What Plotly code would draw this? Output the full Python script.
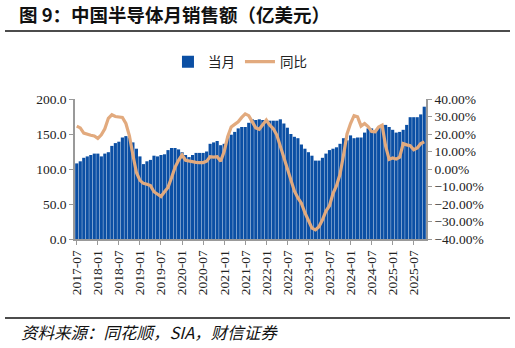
import pandas as pd
import plotly.graph_objects as go

months = [d.strftime("%Y-%m") for d in pd.date_range("2017-07-01", "2025-10-01", freq="MS")]

monthly_sales = [
    108, 111, 116, 118, 120, 122, 122, 118, 122, 124,
    133, 137, 139, 145, 147, 145, 138, 129, 118, 107,
    111, 113, 119, 118, 120, 121, 127, 130, 130, 128,
    124, 120, 117, 120, 123, 123, 123, 125, 136, 138,
    140, 134, 136, 145, 149, 153, 158, 160, 160, 166,
    171, 170, 171, 170, 170, 169, 169, 169, 171, 165,
    159, 150, 146, 144, 135, 129, 124, 119, 112, 112,
    116, 122, 127, 129, 131, 136, 144, 141, 148, 144,
    145, 145, 152, 158, 158, 155, 160, 163, 163, 160,
    156, 152, 153, 156, 163, 174, 174, 174, 178, 189,
]

yoy = [
    24.5, 23.5, 20.5, 19.8, 19.3, 18.9, 17.5, 19.5, 23.0, 29.0,
    31.0, 30.0, 29.9, 29.5, 26.0, 19.0, 8.0, -2.0, -6.5, -8.2,
    -8.7, -9.5, -13.0, -14.3, -15.7, -13.0, -10.5, -5.0, 1.0, 5.0,
    8.0, 5.0, 4.5, 4.0, 3.8, 3.7, 3.7, 4.5, 7.0, 6.8,
    7.0, 4.5, 10.0, 18.5, 24.0, 25.5, 27.0, 29.5, 31.5, 30.5,
    27.0, 23.5, 22.7, 25.5, 28.0, 25.0, 23.0, 19.4, 13.0, 8.0,
    1.5, -6.0, -12.5, -16.5, -19.5, -25.0, -30.0, -33.8, -34.8, -33.0,
    -29.0, -24.0, -21.0, -14.0, -9.5, -3.0, 8.0, 20.0, 26.0, 30.5,
    29.8, 24.5, 26.0, 24.2, 21.5, 21.3, 24.0, 25.0, 13.0, 5.5,
    6.3, 5.7, 6.8, 14.5, 13.8, 13.3, 11.0, 12.0, 14.5, 15.5,
]

tick_labels = months[::6]

title_text = "图 9：中国半导体月销售额（亿美元）"
source_text = "资料来源：同花顺，SIA，财信证券"
series_names = ["当月", "同比"]

x_idx = list(range(len(months)))
tick_idx = x_idx[::6]

serif = "Liberation Serif, Times New Roman, serif"
cjk = "Noto Sans CJK SC"

fig = go.Figure()
fig.add_trace(go.Bar(
    x=x_idx, y=monthly_sales, name=series_names[0],
    marker=dict(color="#0B4FA4", line=dict(width=0)),
    yaxis="y",
))
fig.add_trace(go.Scatter(
    x=x_idx, y=yoy, name=series_names[1], mode="lines",
    line=dict(color="#E2AA7E", width=3.2),
    yaxis="y2",
))

fig.update_layout(
    width=515, height=348,
    margin=dict(l=75, r=89, t=99, b=109),
    paper_bgcolor="white", plot_bgcolor="white",
    bargap=0.1,
    showlegend=True,
    legend=dict(
        orientation="h", x=0.47, xanchor="center", y=1.265, yanchor="middle",
        font=dict(family=cjk, size=13.5, color="#222"),
        itemwidth=30, tracegroupgap=0,
        bgcolor="rgba(0,0,0,0)",
    ),
    xaxis=dict(
        range=[-0.5, len(months) - 0.5],
        tickmode="array", tickvals=tick_idx, ticktext=tick_labels,
        tickangle=-90,
        ticks="outside", ticklen=4, tickcolor="#999", tickwidth=1,
        showline=True, linecolor="#999", linewidth=1.5,
        showgrid=False, zeroline=False,
        tickfont=dict(family=serif, size=13.5, color="#222"),
    ),
    yaxis=dict(
        range=[0, 200], dtick=50, tickformat=".1f",
        ticks="outside", ticklen=4, tickcolor="#999",
        showline=True, linecolor="#999", linewidth=1.5,
        showgrid=False, zeroline=False,
        tickfont=dict(family=serif, size=13.5, color="#222"),
    ),
    yaxis2=dict(
        range=[-40, 40], dtick=10, tickformat=".2f", ticksuffix="%",
        overlaying="y", side="right",
        ticks="outside", ticklen=4, tickcolor="#999",
        showline=True, linecolor="#999", linewidth=1.5,
        showgrid=False, zeroline=False,
        tickfont=dict(family=serif, size=13.5, color="#222"),
    ),
    annotations=[
        dict(text="<b>" + title_text + "</b>", xref="paper", yref="paper",
             x=(17 - 75) / 351, y=(239 - 14) / 140, xanchor="left", yanchor="middle",
             showarrow=False, font=dict(family=cjk, size=18.5, color="#111")),
        dict(text="<i>" + source_text + "</i>", xref="paper", yref="paper",
             x=(19 - 75) / 351, y=(239 - 332) / 140, xanchor="left", yanchor="middle",
             showarrow=False, font=dict(family=cjk, size=16.5, color="#111")),
    ],
    shapes=[
        dict(type="line", xref="paper", yref="paper",
             x0=(5 - 75) / 351, x1=(510 - 75) / 351,
             y0=(239 - 31) / 140, y1=(239 - 31) / 140,
             line=dict(color="#111", width=1.6)),
        dict(type="line", xref="paper", yref="paper",
             x0=(5 - 75) / 351, x1=(510 - 75) / 351,
             y0=(239 - 318) / 140, y1=(239 - 318) / 140,
             line=dict(color="#111", width=1.6)),
    ],
)

fig.write_html("out.html")
